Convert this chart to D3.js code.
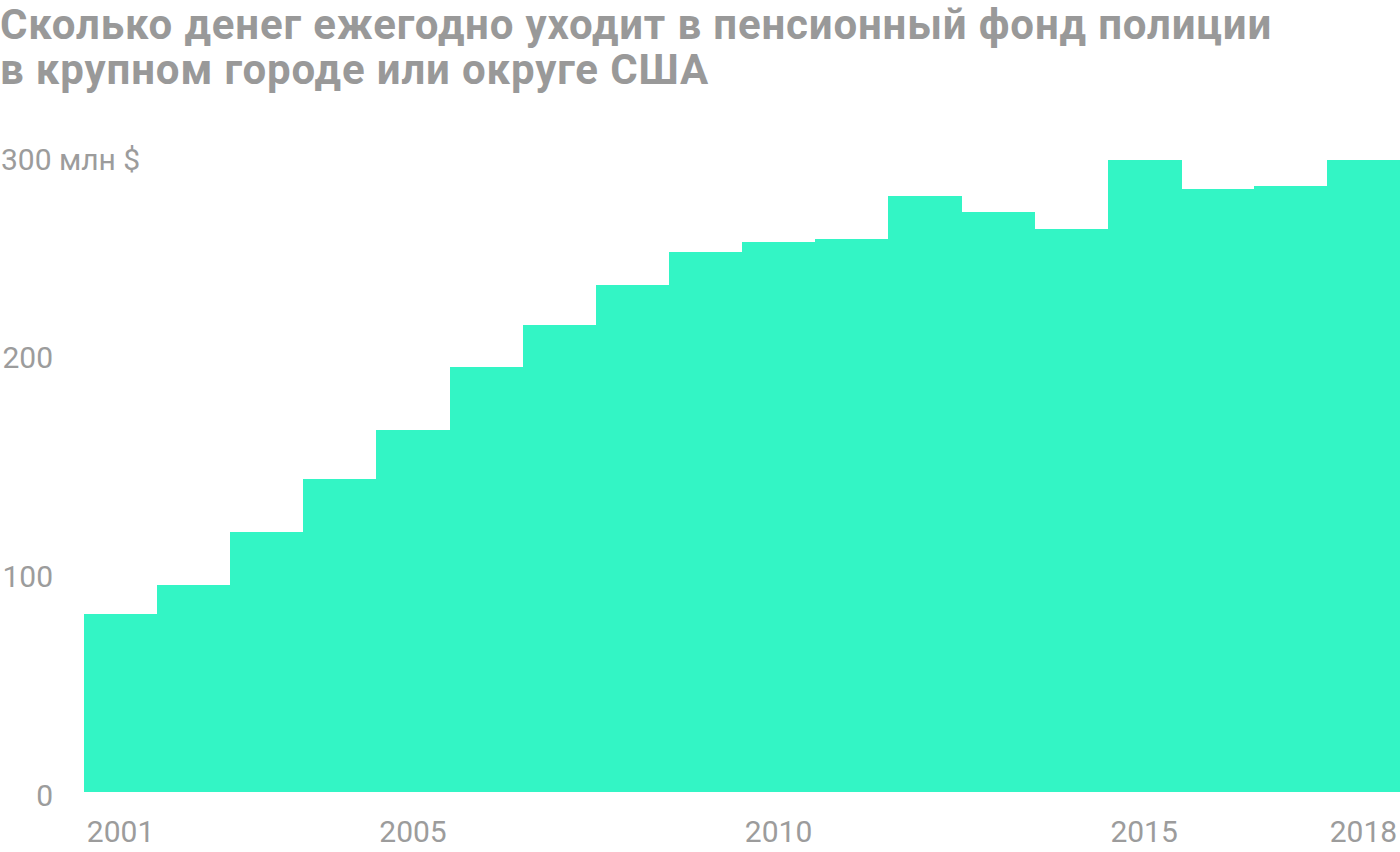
<!DOCTYPE html>
<html><head><meta charset="utf-8">
<script src="https://cdn.jsdelivr.net/npm/d3@7"></script>
<style>
body{margin:0;background:#fff;}
svg{display:block;}
</style></head>
<body>
<svg id="c" width="1400" height="852"></svg>
<script>
const years = [2001,2002,2003,2004,2005,2006,2007,2008,2009,2010,2011,2012,2013,2014,2015,2016,2017,2018];
const values = [81.2,94.7,118.9,143.0,165.4,194.2,213.5,231.7,246.7,251.3,252.7,272.3,264.9,257.3,288.8,275.4,276.9,288.8];
const yTicks = [0,100,200,300];
const xTickYears = [2001,2005,2010,2015,2018];
const titleLines = ["Сколько денег ежегодно уходит в пенсионный фонд полиции","в крупном городе или округе США"];

const svg = d3.select("#c");
const x = d3.scaleBand().domain(years).range([84,1400]).padding(0);
const y = d3.scaleLinear().domain([0,300]).range([792, 792-300*2.1885]);

svg.append("g").selectAll("text").data(titleLines).join("text")
  .attr("x",0).attr("y",(d,i)=>39+i*45)
  .attr("font-family","Roboto").attr("font-weight",700).attr("font-size",42)
  .attr("letter-spacing","0.85px")
  .attr("fill","#999").text(d=>d);

svg.append("g").attr("shape-rendering","crispEdges").selectAll("rect").data(values).join("rect")
  .attr("x",(d,i)=>x(years[i])).attr("width",x.bandwidth()+1)
  .attr("y",d=>y(d)).attr("height",d=>y(0)-y(d))
  .attr("fill","#33f5c5");

const lab = svg.append("g").attr("font-family","Roboto").attr("font-weight",400)
  .attr("font-size",30).attr("fill","#9c9c9c");
lab.selectAll("text.yt").data(yTicks).join("text").attr("class","yt")
  .attr("x",d=>d===300?1:53).attr("text-anchor",d=>d===300?"start":"end")
  .attr("y",d=>(d===300? y(d)+21 : y(d)) + 2.7)
  .attr("dy","0.36em")
  .text(d=>d===300? d+" млн $" : d);

lab.selectAll("text.xt").data(xTickYears).join("text").attr("class","xt")
  .attr("x",d=> d===2018 ? Math.min(x(d)+x.bandwidth()/2, 1400-36) : x(d)+x.bandwidth()/2)
  .attr("text-anchor","middle").attr("y",842).text(d=>d);
</script>
</body></html>
